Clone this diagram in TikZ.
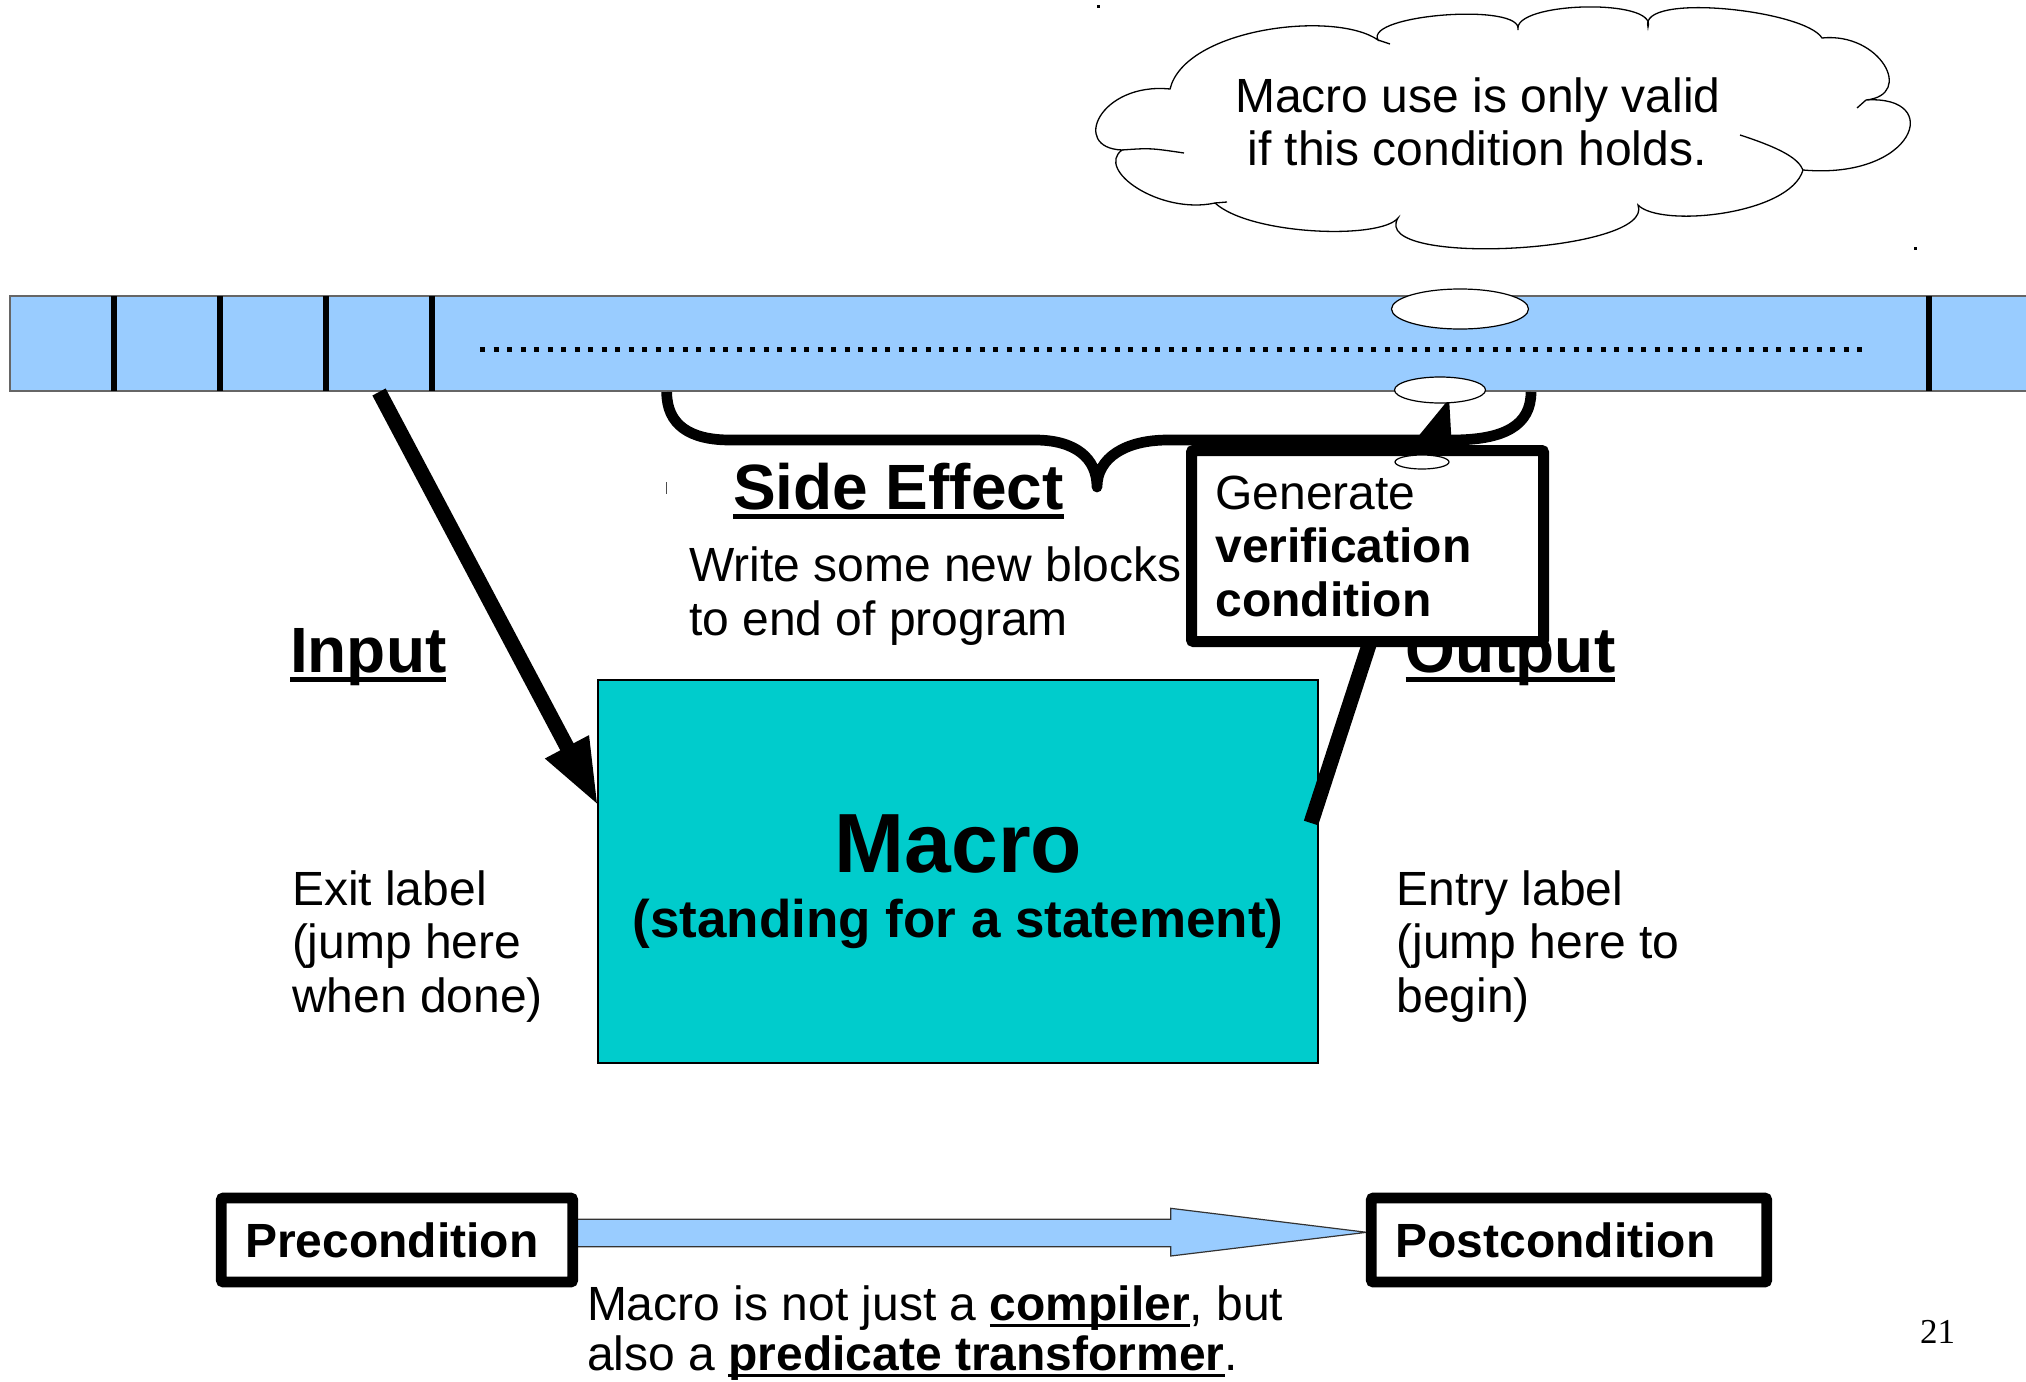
\documentclass[tikz,border=0pt]{standalone}
\usepackage{fontspec}
\setmainfont{Liberation Sans}
\newfontfamily\numfont{Liberation Serif}
\usetikzlibrary{arrows.meta,shapes.geometric}
\definecolor{barblue}{HTML}{99CCFF}
\definecolor{macrocyan}{HTML}{00CCCC}
\newcommand\undl[1]{\setbox0=\hbox{#1}\rlap{\rule[-0.15em]{\wd0}{0.065em}}\box0}
\tikzset{
  lbl/.style={inner sep=0pt, outer sep=0pt, anchor=base west, font=\fontsize{48}{54}\selectfont},
  lblc/.style={lbl, anchor=base},
  headlbl/.style={inner sep=0pt, outer sep=0pt, anchor=base west, font=\fontsize{64}{72}\selectfont\bfseries},
  thickbox/.style={draw=black, line width=11, fill=white, rounded corners=2},
  cloudline/.style={draw=black, line width=1.3},
  bubble/.style={draw=black, line width=1.2, fill=white},
  divider/.style={draw=black, line width=6},
  bigarrow/.style={line width=15, -{Triangle[length=67pt,width=45pt]}},
}
\begin{document}
\begin{tikzpicture}[x=1pt,y=-1pt]
\useasboundingbox (0,0) rectangle (2026,1381);

% program bar
\draw[fill=barblue, draw=black!60, line width=1.3] (10,296) rectangle (2040,391);
\foreach \xx in {113.7,219.7,326,431.6,1929}{\draw[divider] (\xx,296) -- (\xx,391);}
\draw[line width=5, dash pattern=on 5pt off 8.5pt] (480,349) -- (1868,349);

% cloud
\draw[cloudline, fill=white] (1170,89)
 .. controls (1185,28) and (1335,10) .. (1378,40)
 .. controls (1364,14.3) and (1524,2.3) .. (1518,30)
 .. controls (1512,1.6) and (1658,-2) .. (1648,27)
 .. controls (1638,-8.1) and (1805,10) .. (1822,38)
 .. controls (1880,32) and (1915,95) .. (1866,100)
 .. controls (1945,95) and (1915,180) .. (1803,170)
 .. controls (1790,215) and (1660,228) .. (1638,205)
 .. controls (1656.1,252.4) and (1368.1,268) .. (1398,218)
 .. controls (1380,240) and (1250,235) .. (1215,203)
 .. controls (1160,215) and (1095,170) .. (1122,150)
 .. controls (1070,148) and (1100,82) .. (1170,89) -- cycle;
\draw[cloudline] (1740,135) .. controls (1780,148) and (1798,158) .. (1803,170);
\draw[cloudline] (1122,150) .. controls (1150,148) .. (1184,153);
\draw[cloudline] (1866,100) -- (1857,108);
\draw[cloudline] (1378,40) -- (1390,44);
\draw[cloudline] (1215,203) -- (1227,202);
\node[lblc] (cloud1) at (1478,112) {Macro use is only valid};
\node[lblc] (cloud2) at (1477,165) {if this condition holds.};
\fill (1097,5.5) rectangle (1099.5,8);
\fill (1914,247) rectangle (1916.5,249.5);

% bubbles of the thought chain
\node[bubble, ellipse, minimum width=137, minimum height=40, inner sep=0pt] (bub1) at (1460,309) {};

% macro box
\node[draw=black, line width=1.3, fill=macrocyan, minimum width=720, minimum height=383, inner sep=0pt, outer sep=0pt, anchor=north west] (macro) at (598,680) {};
\node[anchor=base, inner sep=0pt, font=\fontsize{84}{90}\selectfont\bfseries] (mtitle) at (958.5,872) {Macro};
\node[anchor=base, inner sep=0pt, font=\fontsize{53}{60}\selectfont\bfseries] (msub) at (958,937) {(standing for a statement)};

% input arrow
\coordinate (inStart) at (379,392);
\coordinate (inTip) at (598.3,806);
\draw[bigarrow] (inStart) -- (inTip);

% labels
\node[headlbl] (input) at (290,672) {\undl{Input}};
\node[headlbl] (output) at (1405.6,672) {\undl{Output}};
\node[headlbl] (side) at (733,509) {\undl{Side Effect}};
\node[lbl] (write1) at (689,581) {Write some new blocks};
\node[lbl] (write2) at (689,635) {to end of program};
\draw[black!70, line width=1.5] (666.7,482) -- (666.7,494);

% output arrow
\coordinate (outStart) at (1311,823);
\coordinate (outTip) at (1450,396);
\draw[bigarrow] (outStart) -- (outTip);

% brace
\draw[line width=10.7, line join=round]
 (666.7,392) .. controls (666.7,425) and (690,440) .. (730,440) -- (1035,440)
 .. controls (1075,440) and (1097,458) .. (1097,487)
 .. controls (1097,458) and (1125,440) .. (1168,440) -- (1452,440)
 .. controls (1505,440) and (1531,425) .. (1531,392);

% verification condition box
\draw[thickbox] (1191.5,450.5) rectangle (1543.5,641.5);
\node[lbl] (gen1) at (1215.5,509) {Generate};
\node[lbl, font=\fontsize{48}{54}\selectfont\bfseries] (gen2) at (1215.5,562) {verification};
\node[lbl, font=\fontsize{48}{54}\selectfont\bfseries] (gen3) at (1215.5,616) {condition};

\node[bubble, ellipse, minimum width=91, minimum height=26, inner sep=0pt] (bub2) at (1440,390) {};
\node[bubble, ellipse, minimum width=54, minimum height=14, inner sep=0pt] (bub3) at (1422,462) {};

% exit / entry labels
\node[lbl] (exit1) at (292,905) {Exit label};
\node[lbl] (exit2) at (292,958) {(jump here};
\node[lbl] (exit3) at (292,1012) {when done)};
\node[lbl] (entry1) at (1396.5,905) {Entry label};
\node[lbl] (entry2) at (1396.5,958) {(jump here to};
\node[lbl] (entry3) at (1396.5,1012) {begin)};

% pre / post condition
\draw[fill=barblue, draw=black!80, line width=1.2]
 (572,1219.3) -- (1170.7,1219.3) -- (1170.7,1208.3) -- (1366.7,1232.3)
 -- (1170.7,1256) -- (1170.7,1246.7) -- (572,1246.7) -- cycle;
\node[thickbox, line width=10.7, minimum width=351.4, minimum height=84, inner sep=0pt, outer sep=0pt, anchor=north west] (pre) at (221.3,1198) {};
\node[thickbox, line width=10.7, minimum width=395.4, minimum height=84, inner sep=0pt, outer sep=0pt, anchor=north west] (post) at (1371.3,1198) {};
\node[lbl, font=\fontsize{48}{54}\selectfont\bfseries] (pretxt) at (245,1257) {Precondition};
\node[lbl, font=\fontsize{48}{54}\selectfont\bfseries] (posttxt) at (1395.5,1257) {Postcondition};

\node[lbl] (note1) at (587,1320) {Macro is not just a \textbf{\undl{compiler}}, but};
\node[lbl] (note2) at (587,1370) {also a \textbf{\undl{predicate transformer}}.};

\node[anchor=base, inner sep=0pt, font=\numfont\fontsize{35}{40}\selectfont] (page) at (1937.5,1343) {21};
\end{tikzpicture}
\end{document}
